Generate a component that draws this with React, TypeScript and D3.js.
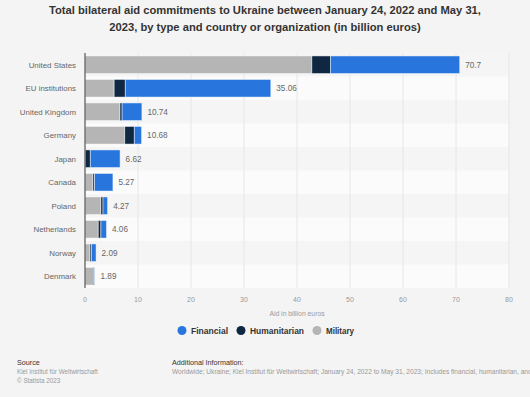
import React from "react";
import * as d3 from "d3";

const categories = ["United States", "EU institutions", "United Kingdom", "Germany", "Japan", "Canada", "Poland", "Netherlands", "Norway", "Denmark"];
const military = [42.8, 5.5, 6.6, 7.5, 0.05, 1.5, 3.0, 2.5, 0.95, 1.6];
const humanitarian = [3.5, 2.1, 0.4, 1.8, 0.95, 0.3, 0.4, 0.5, 0.25, 0.2];
const financial = [24.4, 27.46, 3.74, 1.38, 5.62, 3.47, 0.87, 1.06, 0.89, 0.09];
const totals = ["70.7", "35.06", "10.74", "10.68", "6.62", "5.27", "4.27", "4.06", "2.09", "1.89"];
const xTicks = [0, 10, 20, 30, 40, 50, 60, 70, 80];
const seriesNames = ["Financial", "Humanitarian", "Military"];
const colors: Record<string, string> = { Financial: "#2876dd", Humanitarian: "#0f2741", Military: "#b5b5b5" };

export default function App() {
  const W = 530, H = 397;
  const x = d3.scaleLinear().domain([0, 80]).range([85, 509]);
  const y = d3.scaleBand().domain(categories).range([53, 288]).paddingInner(0.25).paddingOuter(0.125);
  const step = y.step();
  const rows = categories.map((c, i) => {
    const segs = [
      { key: "Military", v0: 0, v1: military[i] },
      { key: "Humanitarian", v0: military[i], v1: military[i] + humanitarian[i] },
      { key: "Financial", v0: military[i] + humanitarian[i], v1: military[i] + humanitarian[i] + financial[i] },
    ];
    return { c, i, segs, total: military[i] + humanitarian[i] + financial[i] };
  });
  const font = "'Liberation Sans', Arial, sans-serif";
  const legendX = [182, 241, 317];
  const legendW = [37, 54, 28];
  return (
    <svg width={W} height={H} style={{ position: "absolute", left: 0, top: 0, fontFamily: font }}>
      <rect x={0} y={0} width={W} height={H} fill="#f4f4f4" />
      <text x={265} y={14} textAnchor="middle" fontSize={11.2} fontWeight="bold" fill="#333">
        Total bilateral aid commitments to Ukraine between January 24, 2022 and May 31,
      </text>
      <text x={265} y={31} textAnchor="middle" fontSize={11.2} fontWeight="bold" fill="#333">
        2023, by type and country or organization (in billion euros)
      </text>
      {categories.map((c, i) => (
        <rect key={c} x={85} y={53 + i * step} width={424} height={step} fill={i % 2 === 0 ? "#f5f5f5" : "#fbfbfb"} />
      ))}
      {xTicks.slice(1).map((t) => (
        <line key={t} x1={x(t)} x2={x(t)} y1={53} y2={288} stroke="#e6e6e6" strokeWidth={1} />
      ))}
      {rows.map((r) => (
        <g key={r.c}>
          {r.segs.map((s) => (
            <rect
              key={s.key}
              x={x(s.v0)}
              y={y(r.c)!}
              width={Math.max(0, x(s.v1) - x(s.v0))}
              height={y.bandwidth()}
              fill={colors[s.key]}
              stroke="#ffffff"
              strokeOpacity={0.6}
              strokeWidth={0.8}
            />
          ))}
          <text x={76} y={y(r.c)! + y.bandwidth() / 2} dy="0.35em" textAnchor="end" fontSize={7.9} fill="#666">
            {r.c}
          </text>
          <text x={x(r.total) + 5.5} y={y(r.c)! + y.bandwidth() / 2} dy="0.35em" fontSize={8.2} fill="#666">
            {totals[r.i]}
          </text>
        </g>
      ))}
      <line x1={85} x2={85} y1={53} y2={288} stroke="#555" strokeWidth={1.2} />
      {xTicks.map((t) => (
        <text key={t} x={x(t)} y={302} textAnchor="middle" fontSize={7} fill="#999">
          {t}
        </text>
      ))}
      <text x={297} y={316} textAnchor="middle" fontSize={6.8} fill="#999">
        Aid in billion euros
      </text>
      {seriesNames.map((n, i) => (
        <g key={n}>
          <circle cx={legendX[i]} cy={330.5} r={4.5} fill={colors[n]} />
          <text x={legendX[i] + 9} y={330.5} dy="0.35em" fontSize={8.6} fontWeight="bold" fill="#333" textLength={legendW[i]} lengthAdjust="spacingAndGlyphs">
            {n}
          </text>
        </g>
      ))}
      <text x={17} y={365} fontSize={7.2} fill="#333">Source</text>
      <text x={17} y={374} fontSize={6.3} fill="#999">Kiel Institut für Weltwirtschaft</text>
      <text x={17} y={383} fontSize={6.3} fill="#999">© Statista 2023</text>
      <text x={172} y={365} fontSize={7.2} fill="#333">Additional Information:</text>
      <text x={172} y={374} fontSize={6.6} fill="#999">
        Worldwide; Ukraine; Kiel Institut für Weltwirtschaft; January 24, 2022 to May 31, 2023; Includes financial, humanitarian, and military aid
      </text>
    </svg>
  );
}
